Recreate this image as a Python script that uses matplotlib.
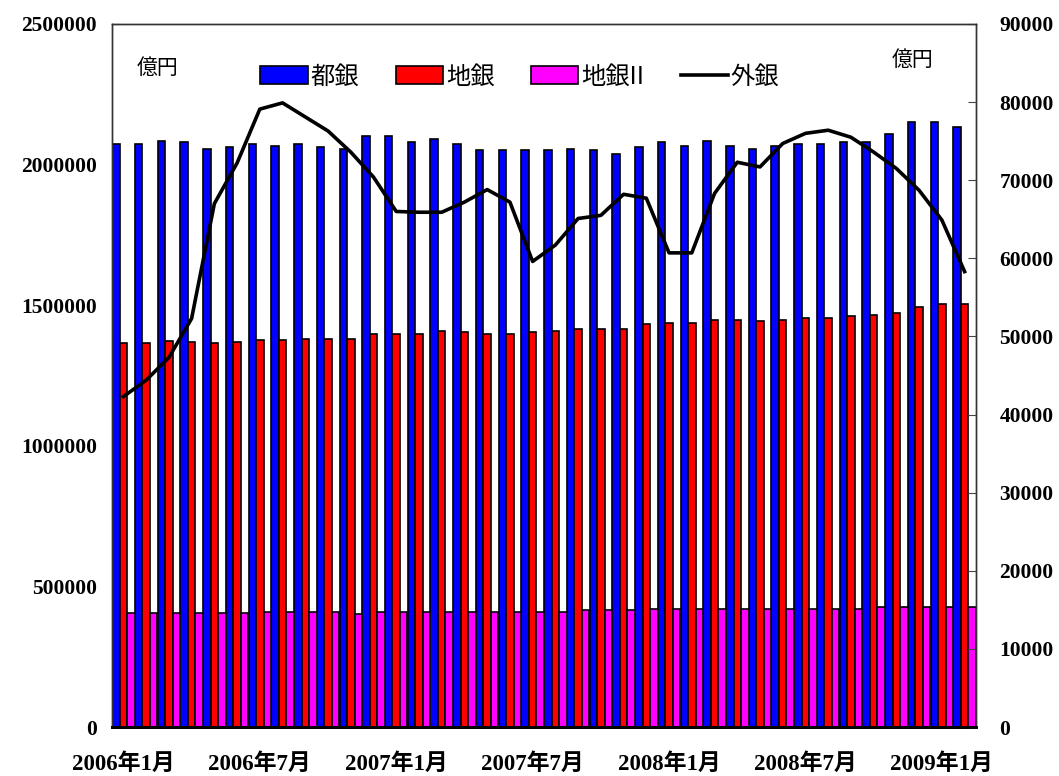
import numpy as np
import matplotlib.pyplot as plt
from matplotlib.lines import Line2D

# monthly balances, 2006/1 - 2009/2 (unit: 億円)
months = [f"{y}年{m}月" for y in (2006, 2007, 2008, 2009) for m in range(1, 13)][:38]
tick_labels = ['2006年1月', '2006年7月', '2007年1月', '2007年7月',
               '2008年1月', '2008年7月', '2009年1月']

toginn = [2073000, 2073000, 2085000, 2079000, 2057000, 2063000, 2073000, 2067000,
          2073000, 2063000, 2057000, 2102000, 2102000, 2079000, 2090000, 2073000,
          2051000, 2051000, 2051000, 2051000, 2057000, 2051000, 2039000, 2063000,
          2079000, 2067000, 2085000, 2067000, 2057000, 2067000, 2073000, 2073000,
          2079000, 2079000, 2107000, 2152000, 2152000, 2135000]
chigin = [1364000, 1364000, 1374000, 1370000, 1364000, 1370000, 1375000, 1375000,
          1381000, 1381000, 1381000, 1399000, 1399000, 1399000, 1408000, 1403000,
          1399000, 1399000, 1403000, 1408000, 1414000, 1414000, 1414000, 1432000,
          1438000, 1438000, 1448000, 1448000, 1444000, 1448000, 1454000, 1454000,
          1460000, 1466000, 1471000, 1495000, 1505000, 1505000]
chigin2 = [404000, 404000, 404000, 404000, 404000, 404000, 410000, 409000,
           409000, 409000, 402000, 409000, 409000, 409000, 409000, 409000,
           409000, 409000, 409000, 409000, 415000, 415000, 415000, 420000,
           420000, 420000, 420000, 420000, 420000, 420000, 420000, 420000,
           420000, 426000, 426000, 426000, 426000, 426000]
gaigin = [42300, 44400, 47300, 52300, 67000, 72200, 79100, 79900, 78100, 76300,
          73600, 70400, 66000, 65900, 65900, 67200, 68800, 67200, 59600, 61700,
          65100, 65500, 68200, 67700, 60700, 60700, 68300, 72300, 71700, 74700,
          76000, 76400, 75500, 73600, 71500, 68700, 64900, 58300]

serif_bold = ['Liberation Serif', 'Noto Sans CJK JP']
num_font = dict(family=serif_bold, weight='bold', size=15.5)
date_font = dict(family=serif_bold, weight='bold', size=16.5)
jp_font = dict(family=['Noto Sans CJK JP', 'DejaVu Sans'], size=15)

fig = plt.figure(figsize=(10.59, 7.76), dpi=100)
ax = fig.add_axes([0.1058, 0.0631, 0.8158, 0.906])
ax.set_axisbelow(True)

x = np.arange(len(months))
w = 0.33
b1 = ax.bar(x - w, toginn, w, color='#0000FF', edgecolor='black', linewidth=1.2)
b2 = ax.bar(x, chigin, w, color='#FF0000', edgecolor='black', linewidth=1.2)
b3 = ax.bar(x + w, chigin2, w, color='#FF00FF', edgecolor='black', linewidth=1.2)

ax.set_xlim(-0.5, len(months) - 0.5)
ax.set_ylim(0, 2500000)
yt = list(range(0, 2500001, 500000))
ax.set_yticks(yt)
ax.set_yticklabels([str(v) for v in yt], fontdict=num_font)
ax.tick_params(axis='y', direction='in', length=6, pad=11, color='#444444')

label_pos = [months.index(t) for t in tick_labels]
ax.set_xticks(label_pos)
ax.set_xticklabels(tick_labels, fontdict=date_font)
ax.tick_params(axis='x', which='major', length=0, pad=19)
ax.set_xticks(np.arange(4.5, len(months), 5), minor=True)
ax.tick_params(axis='x', which='minor', direction='in', length=8, color='#888888')

# foreign banks on the secondary axis
ax2 = ax.twinx()
line, = ax2.plot(x, gaigin, color='black', linewidth=2.6)
ax2.set_ylim(0, 90000)
yt2 = list(range(0, 90001, 10000))
ax2.set_yticks(yt2)
ax2.set_yticklabels([str(v) for v in yt2], fontdict=num_font)
ax2.tick_params(axis='y', direction='in', length=6, pad=17, color='#444444')

for a in (ax, ax2):
    for side in ('left', 'top', 'right'):
        a.spines[side].set_color('#333333')
        a.spines[side].set_linewidth(1.0)
    a.spines['bottom'].set_color('black')
    a.spines['bottom'].set_linewidth(2.0)

ax2.text(0.053, 0.937, '億円', transform=ax2.transAxes, ha='center', va='center', **jp_font)
ax2.text(0.927, 0.949, '億円', transform=ax2.transAxes, ha='center', va='center', **jp_font)

handles = [b1, b2, b3, Line2D([], [], color='black', linewidth=2.6)]
ax2.legend(handles, ['都銀', '地銀', '地銀II', '外銀'], ncol=4, loc='center',
           bbox_to_anchor=(0.472, 0.925), frameon=False,
           prop=dict(family=['Noto Sans CJK JP', 'DejaVu Sans'], size=17.5),
           handlelength=1.95, handleheight=0.75, handletextpad=0.12,
           columnspacing=1.5, borderaxespad=0)

fig.savefig('out.png', dpi=100)
